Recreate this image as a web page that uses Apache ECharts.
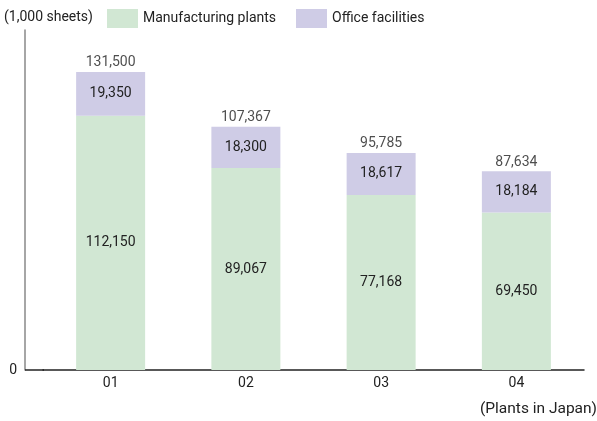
<!DOCTYPE html>
<html><head><meta charset="utf-8">
<script src="https://cdn.jsdelivr.net/npm/echarts@6/dist/echarts.min.js"></script>
<style>html,body{margin:0;padding:0;background:#fff}#c{width:597px;height:421px}</style>
</head><body><div id="c"></div>
<script>
const categories = ['01', '02', '03', '04'];
const manufacturing = [112150, 89067, 77168, 69450];
const office = [19350, 18300, 18617, 18184];
const totals = [131500, 107367, 95785, 87634];
const yTickLabels = ['0'];

const FONT = 'Roboto, "Liberation Sans", sans-serif';
const chart = echarts.init(document.getElementById('c'));
const fmt = v => v.toLocaleString('en-US');
chart.setOption({
  animation: false,
  textStyle: { fontFamily: FONT, color: '#222' },
  title: [
    { text: '(1,000 sheets)', left: 4, top: 10, padding: 0, textStyle: { fontSize: 14, fontWeight: 'normal', color: '#222', fontFamily: FONT } },
    { text: '(Plants in Japan)', right: 0, top: 401, padding: 0, textStyle: { fontSize: 15.5, fontWeight: 'normal', color: '#222', fontFamily: FONT } }
  ],
  legend: {
    left: 107, top: 9, padding: 0, itemWidth: 31, itemHeight: 19, itemGap: 20,
    icon: 'rect',
    textStyle: { fontSize: 14, color: '#222', fontFamily: FONT },
    data: ['Manufacturing plants', 'Office facilities']
  },
  grid: { left: 43, right: 13, top: 30, bottom: 51 },
  xAxis: {
    type: 'category', data: categories,
    axisLine: { lineStyle: { color: '#222', width: 1.5 } },
    axisTick: { show: false },
    axisLabel: { fontSize: 14, color: '#222', margin: 6, fontFamily: FONT }
  },
  yAxis: {
    type: 'value', min: 0, max: 150000, interval: 150000, offset: 18,
    axisLine: { show: true, lineStyle: { color: '#888', width: 1.5 } },
    axisTick: { show: false },
    splitLine: { show: false },
    axisLabel: { fontSize: 14, color: '#222', margin: 8, fontFamily: FONT,
      formatter: v => v === 0 ? yTickLabels[0] : '' }
  },
  graphic: [
    { type: 'line', shape: { x1: 25, y1: 370, x2: 44, y2: 370 }, style: { stroke: '#222', lineWidth: 1.5 }, z: 10 }
  ],
  series: [
    { name: 'Manufacturing plants', type: 'bar', stack: 's', barWidth: 69, data: manufacturing,
      itemStyle: { color: '#d1e7d3' },
      label: { show: true, position: 'inside', fontSize: 14, color: '#222', formatter: p => fmt(p.value) } },
    { name: 'Office facilities', type: 'bar', stack: 's', barWidth: 69, data: office,
      itemStyle: { color: '#cfcce6' },
      label: { show: true, position: 'inside', fontSize: 14, color: '#222', formatter: p => fmt(p.value) } },
    { name: 'total', type: 'scatter', data: totals, symbolSize: 0, silent: true,
      label: { show: true, position: 'top', distance: 2, fontSize: 14, color: '#222', formatter: p => fmt(p.value) } }
  ]
});
</script></body></html>
